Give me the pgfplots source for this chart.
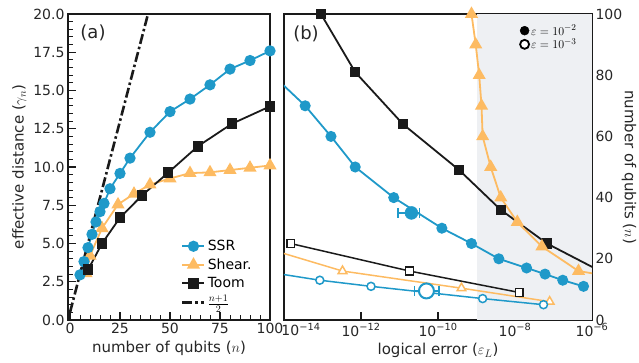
\documentclass[border=0pt]{standalone}
\usepackage{pgfplots}
\pgfplotsset{compat=1.18}
\usepackage{fontspec}
\setmainfont{DejaVu Sans}
\definecolor{cblue}{HTML}{1F99C9}
\definecolor{corange}{HTML}{FDBB62}
\definecolor{cblack}{HTML}{1A1A1A}
\definecolor{cgray}{HTML}{EEF0F3}
\definecolor{ctext}{HTML}{262626}
\newcommand{\tp}[1]{10\textsuperscript{−#1}}
\begin{document}
\begin{tikzpicture}
\useasboundingbox (0,0) rectangle (639pt,362pt);
\pgfplotsset{
  every axis/.append style={
    scale only axis, height=306pt,
    tick align=inside,
    major tick length=8pt, minor tick length=5pt,
    axis line style={line width=1.5pt, cblack},
    tick style={line width=1.2pt, cblack},
    minor tick style={line width=0.9pt, cblack},
    tick label style={font=\fontsize{14}{16}\selectfont, text=ctext},
    label style={font=\fontsize{15}{18}\selectfont, text=ctext},
    /pgf/number format/assume math mode=true,
  },
}
% ---------------- panel (a)
\begin{axis}[at={(68pt,42pt)}, anchor=south west, width=202pt,
  xmin=-1, xmax=100, ymin=0, ymax=20,
  xtick={0,25,50,75,100}, minor x tick num=4,
  ytick={0,2.5,5,7.5,10,12.5,15,17.5,20}, minor y tick num=4,
  yticklabel style={/pgf/number format/.cd, fixed, fixed zerofill, precision=1},
  xtick pos=bottom, ytick pos=left,
  xlabel={number of qubits ($n$)}, ylabel={effective distance ($\gamma_n$)},
  legend style={draw=none, fill=none, at={(0.925,0.025)}, anchor=south east,
    font=\fontsize{14}{16}\selectfont, row sep=2.5pt, inner sep=1pt},
  legend cell align=left,
  legend image code/.code={\draw[mark repeat=2,mark phase=2,#1] plot coordinates {(0pt,0pt) (11pt,0pt) (22pt,0pt)};},
]
\addplot[corange, line width=1.8pt, mark=triangle*, mark size=5.8pt, mark options={fill=corange, draw=corange}, forget plot]
 coordinates {(8,3.05) (10,4.2) (16,6.0) (24,7.55) (32,8.25) (40,8.85) (50,9.25) (60,9.6) (70,9.65) (80,9.8) (90,9.95) (100,10.1)};
\addplot[cblue, line width=1.8pt, mark=*, mark size=4.7pt, mark options={fill=cblue, draw=cblue}, forget plot]
 coordinates {(5,2.95) (7,3.82) (9,4.73) (11,5.6) (13,6.41) (15,7.08) (17,7.62) (20,8.58) (25,9.58) (30,10.58) (40,12.27) (50,13.62) (60,14.44) (70,15.37) (80,16.4) (90,16.96) (100,17.59)};
\addplot[cblack, line width=1.8pt, mark=square*, mark size=4.5pt, mark options={fill=cblack, draw=cblack}, forget plot]
 coordinates {(9,3.28) (16,5.0) (25,6.69) (36,8.14) (49,9.62) (64,11.36) (81,12.83) (100,13.96)};
\addplot[cblack, line width=2.6pt, dash pattern=on 10pt off 3pt on 2.5pt off 3pt, forget plot]
 coordinates {(0,0.5) (39,20)};
\addlegendimage{cblue, line width=1.8pt, mark=*, mark size=4.7pt, mark options={fill=cblue, draw=cblue}}
\addlegendentry{SSR}
\addlegendimage{corange, line width=1.8pt, mark=triangle*, mark size=5.8pt, mark options={fill=corange, draw=corange}}
\addlegendentry{Shear.}
\addlegendimage{cblack, line width=1.8pt, mark=square*, mark size=4.5pt, mark options={fill=cblack, draw=cblack}}
\addlegendentry{Toom}
\addlegendimage{cblack, line width=2.6pt, dash pattern=on 10pt off 3pt on 2.5pt off 3pt}
\addlegendentry{$\frac{n+1}{2}$}
\end{axis}
% ---------------- panel (b)
\begin{axis}[at={(284pt,42pt)}, anchor=south west, width=308pt,
  xmode=log, xmin=1e-14, xmax=1e-6, ymin=0, ymax=100,
  xtick={1e-14,1e-12,1e-10,1e-8,1e-6},
  xticklabels={\hspace*{34pt}\tp{14}, \tp{12}, \tp{10}, \tp{8}, \tp{6}},
  minor xtick={},
  ytick={0,20,40,60,80,100}, minor y tick num=3,
  xtick pos=bottom, ytick pos=right, yticklabel pos=right,
  xlabel={logical error ($\varepsilon_L$)},
  legend style={draw=none, fill=none, at={(0.96,0.975)}, anchor=north east,
    font=\fontsize{12.5}{14}\selectfont, row sep=-2pt, inner sep=1pt},
  legend cell align=left,
]
\addplot[fill=cgray, draw=none, forget plot] coordinates {(1e-9,100) (1e-6,100)} \closedcycle;
% open markers (epsilon = 1e-3)
\addplot[cblack, line width=1.5pt, mark=square*, mark size=3.8pt, mark options={fill=white, draw=cblack, line width=1.5pt}, forget plot]
 coordinates {(1.48e-14,25) (1.82e-11,16) (1.29e-8,9)};
\addplot[corange, line width=1.5pt, mark=triangle*, mark size=5pt, mark options={fill=white, draw=corange, line width=1.5pt}, forget plot]
 coordinates {(2.51e-15,24) (3.31e-13,16) (4.07e-10,10.4) (7.94e-8,6)};
\addplot[cblue, line width=1.5pt, mark=*, mark size=4pt, mark options={fill=white, draw=cblue, line width=1.5pt}, forget plot]
 coordinates {(8.32e-15,15) (8.51e-14,13) (1.82e-12,11) (1.445e-9,7) (5.50e-8,5)};
\addplot[cblue, line width=1.8pt, mark=|, mark size=5pt, forget plot]
 coordinates {(2.45e-11,9.5) (1.07e-10,9.5)};
\addplot[cblue, only marks, mark=*, mark size=7.5pt, mark options={fill=white, draw=cblue, line width=2pt}, forget plot]
 coordinates {(5.01e-11,9.5)};
% filled markers (epsilon = 1e-2)
\addplot[cblack, line width=1.8pt, mark=square*, mark size=4.2pt, mark options={fill=cblack, draw=cblack}, forget plot]
 coordinates {(9.12e-14,100) (7.08e-13,81) (1.23e-11,64) (3.55e-10,49) (4.27e-9,36) (6.76e-8,25) (1.62e-6,16)};
\addplot[corange, line width=1.8pt, mark=triangle*, mark size=5.8pt, mark options={fill=corange, draw=corange}, forget plot]
 coordinates {(7.41e-10,100) (9.55e-10,90) (1.175e-9,80) (1.35e-9,70) (1.445e-9,60) (2.34e-9,50) (4.27e-9,40) (1.148e-8,32) (5.01e-8,24) (4.47e-7,16) (3.16e-4,10)};
\addplot[cblue, line width=1.8pt, mark=*, mark size=4.6pt, mark options={fill=cblue, draw=cblue}, forget plot]
 coordinates {(5.13e-15,80) (3.55e-14,70) (1.66e-13,60) (7.08e-13,50) (7.08e-12,40) (1.26e-10,30) (7.41e-10,25) (3.80e-9,20) (2.0e-8,17) (6.03e-8,15) (1.74e-7,13) (6.03e-7,11)};
\addplot[cblue, line width=1.8pt, mark=|, mark size=5pt, forget plot]
 coordinates {(9.12e-12,35) (3.31e-11,35)};
\addplot[cblue, only marks, mark=*, mark size=6.5pt, mark options={fill=cblue, draw=cblue}, forget plot]
 coordinates {(2.04e-11,35)};
\addlegendimage{only marks, mark=*, mark size=4.5pt, mark options={fill=black, draw=black}}
\addlegendentry{$\varepsilon=10^{-2}$}
\addlegendimage{only marks, mark=*, mark size=4.5pt, mark options={fill=white, draw=black, line width=1.8pt}}
\addlegendentry{$\varepsilon=10^{-3}$}
\end{axis}
\node[font=\fontsize{18}{20}\selectfont, text=ctext] at (93pt,329pt) {(a)};
\node[font=\fontsize{18}{20}\selectfont, text=ctext] at (306pt,328pt) {(b)};
\node[rotate=-90, font=\fontsize{15}{18}\selectfont, text=ctext] at (629pt,195pt) {number of qubits ($n$)};
\end{tikzpicture}
\end{document}
